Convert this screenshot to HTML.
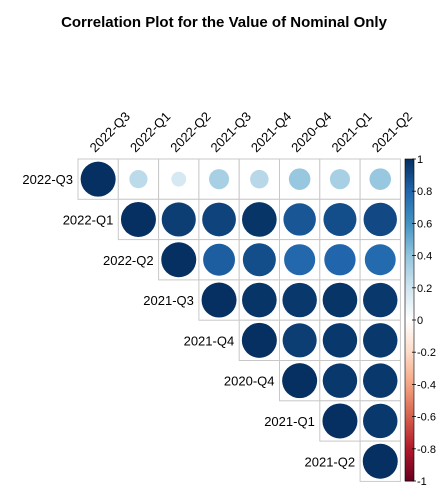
<!DOCTYPE html>
<html><head><meta charset="utf-8"><style>
body{margin:0;background:#fff;}
svg text{font-family:"Liberation Sans",sans-serif;}
</style></head><body>
<svg width="448" height="496" viewBox="0 0 448 496">
<text x="224" y="27" text-anchor="middle" font-size="15" font-weight="bold">Correlation Plot for the Value of Nominal Only</text>
<g id="grid"></g>
<g id="bar"></g>
</svg>
<script>
const labels=["2022-Q3","2022-Q1","2022-Q2","2021-Q3","2021-Q4","2020-Q4","2021-Q1","2021-Q2"];
const row0=[1,0.27,0.18,0.33,0.28,0.38,0.33,0.38];
const row1=[1,0.95,0.93,0.98,0.86,0.89,0.91];
const row2=[1,0.83,0.89,0.79,0.8,0.78];
const row3=[1,0.98,0.97,0.98,0.97];
const row4=[1,0.95,0.97,0.97];
const row5=[1,0.97,0.97];
const row6=[1,0.97];
const row7=[1];
const barTicks=[1,0.8,0.6,0.4,0.2,0,-0.2,-0.4,-0.6,-0.8,-1];
const rows=[row0,row1,row2,row3,row4,row5,row6,row7];
const NS="http://www.w3.org/2000/svg";
const X0=78,Y0=159,C=40.3,R=17.5;
const stops=["#67001F","#B2182B","#D6604D","#F4A582","#FDDBC7","#FFFFFF","#D1E5F0","#92C5DE","#4393C3","#2166AC","#053061"];
function hex(h){return [1,3,5].map(i=>parseInt(h.substr(i,2),16));}
function col(v){let t=(v+1)/2*10;let i=Math.min(9,Math.floor(t));let f=t-i;let a=hex(stops[i]),b=hex(stops[i+1]);return "rgb("+a.map((x,k)=>Math.round(x+(b[k]-x)*f)).join(",")+")";}
function mk(tag,at,p){const e=document.createElementNS(NS,tag);for(const k in at)e.setAttribute(k,at[k]);p.appendChild(e);return e;}
const g=document.getElementById("grid");
rows.forEach((r,i)=>{
 const lab=mk("text",{x:X0+i*C-5,y:Y0+i*C+C/2+5,"text-anchor":"end","font-size":"13"},g);
 lab.textContent=labels[i];
 
 
 r.forEach((v,k)=>{
  const j=i+k;const x=X0+j*C,y=Y0+i*C;
  const rc=mk("rect",{x:x,y:y,width:C,height:C,fill:"#fff",stroke:"#c8c8c8","stroke-width":"1"},g);
  
  
  const c=mk("circle",{cx:x+C/2,cy:y+C/2,r:R*Math.sqrt(Math.abs(v)),fill:col(v)},g);
  
  
 });
});
labels.forEach((l,j)=>{
 const cx=X0+j*C+C/2;
 const t=mk("text",{x:0,y:0,"font-size":"13",transform:"translate("+(cx-3)+","+(Y0-6)+") rotate(-45)"},g);
 t.textContent=l;
 
 
});
const b=document.getElementById("bar");
const BX=405,BW=9,BT=159,BB=481;
function by(v){return BT+(1-v)/2*(BB-BT);}
for(let k=0;k<200;k++){
 const v=1-(k+0.5)/100;
 const r=mk("rect",{x:BX,y:BT+k*(BB-BT)/200,width:BW,height:(BB-BT)/200+0.5,fill:col(v)},b);
 
 
}
const fr=mk("rect",{x:BX,y:BT,width:BW,height:BB-BT,fill:"none",stroke:"#000","stroke-width":"0.6"},b);


barTicks.forEach(v=>{
 const y=by(v);
 const tk=mk("line",{x1:BX+BW-2,x2:BX+BW+2,y1:y,y2:y,stroke:"#000","stroke-width":"0.8"},b);
 
 
 const t=mk("text",{x:BX+BW+3,y:y+4,"font-size":"11"},b);
 t.textContent=String(v);
 
 
});
</script>
</body></html>
